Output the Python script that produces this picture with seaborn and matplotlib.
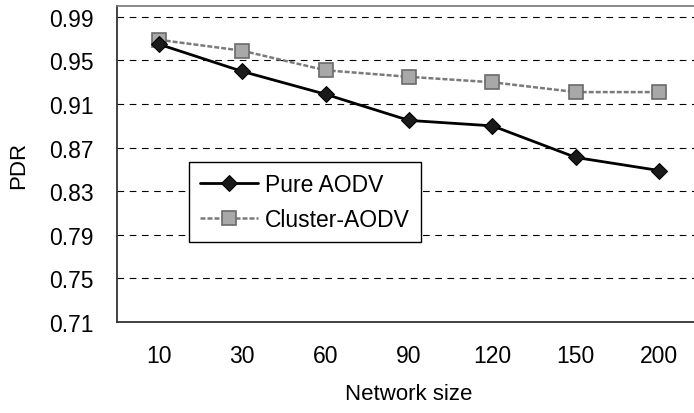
import numpy as np
import pandas as pd
import matplotlib
matplotlib.use("Agg")
import matplotlib.pyplot as plt
import seaborn as sns

sizes = ["10", "30", "60", "90", "120", "150", "200"]
pure_aodv = [0.965, 0.940, 0.919, 0.895, 0.890, 0.861, 0.849]
cluster_aodv = [0.969, 0.959, 0.941, 0.935, 0.930, 0.921, 0.921]
yticks = [0.71, 0.75, 0.79, 0.83, 0.87, 0.91, 0.95, 0.99]

sns.set_theme(style="white")
plt.rcParams['font.family'] = ['Liberation Sans', 'DejaVu Sans']
plt.rcParams['text.color'] = 'black'
plt.rcParams['axes.labelcolor'] = 'black'
plt.rcParams['xtick.color'] = 'black'
plt.rcParams['ytick.color'] = 'black'

df = pd.DataFrame({
    "size": sizes * 2,
    "PDR": pure_aodv + cluster_aodv,
    "series": ["Pure AODV"] * len(sizes) + ["Cluster-AODV"] * len(sizes),
})
df["pos"] = np.tile(np.arange(len(sizes)), 2)

fig = plt.figure(figsize=(6.94, 4.14), dpi=100)
ax = fig.add_axes([117/694, 1 - 323/414, (701 - 117)/694, (323 - 7)/414])

sns.lineplot(data=df[df.series == "Pure AODV"], x="pos", y="PDR", ax=ax,
             color="black", linewidth=2.0, marker="D", markersize=8,
             markerfacecolor="#1a1a1a", markeredgecolor="black",
             label="Pure AODV", zorder=4)
sns.lineplot(data=df[df.series == "Cluster-AODV"], x="pos", y="PDR", ax=ax,
             color="#7a7a7a", linewidth=1.8, linestyle=(0, (2, 0.8)),
             marker="s", markersize=9.5,
             markerfacecolor="#a8a8a8", markeredgecolor="#6a6a6a", markeredgewidth=1.2,
             label="Cluster-AODV", zorder=3)

ax.set_xlim(-0.5, len(sizes) - 0.5)
ax.set_ylim(0.71, 1.0)
ax.set_yticks(yticks)
ax.set_yticklabels([f"{v:.2f}" for v in yticks])
ax.set_xticks(np.arange(len(sizes)))
ax.set_xticklabels(sizes)
ax.set_xticks(np.arange(-0.5, len(sizes), 1.0), minor=True)
ax.tick_params(axis="x", which="major", length=0, pad=16, labelsize=16.5)
ax.tick_params(axis="x", which="minor", length=8, direction="inout", width=1, color="#333333")
ax.tick_params(axis="y", which="major", length=8, direction="inout", width=1, color="#333333",
               labelsize=16.5, pad=13)

for v in yticks:
    ax.axhline(v, color="black", linewidth=0.8, linestyle=(0, (6, 5)), zorder=1)

for side in ["left", "bottom"]:
    ax.spines[side].set_color("#333333")
    ax.spines[side].set_linewidth(1.3)
ax.spines["top"].set_color("#777777")
ax.spines["top"].set_linewidth(1.2)
ax.spines["top"].set_linestyle((0, (1, 1)))
ax.spines["right"].set_visible(False)

ax.set_xlabel("Network size", fontsize=16, labelpad=11)
ax.set_ylabel("PDR", fontsize=16, labelpad=14)

leg = ax.legend(loc="upper left", bbox_to_anchor=(189/694, 1 - 163/414),
                bbox_transform=fig.transFigure, borderaxespad=0,
                fontsize=16.5, frameon=True, fancybox=False, handlelength=2.5,
                borderpad=0.5, labelspacing=0.5, handletextpad=0.3)
leg.get_frame().set_edgecolor("black")
leg.get_frame().set_linewidth(1.0)
leg.get_frame().set_facecolor("white")
leg.get_frame().set_alpha(1)

fig.savefig("out.png", dpi=100)
